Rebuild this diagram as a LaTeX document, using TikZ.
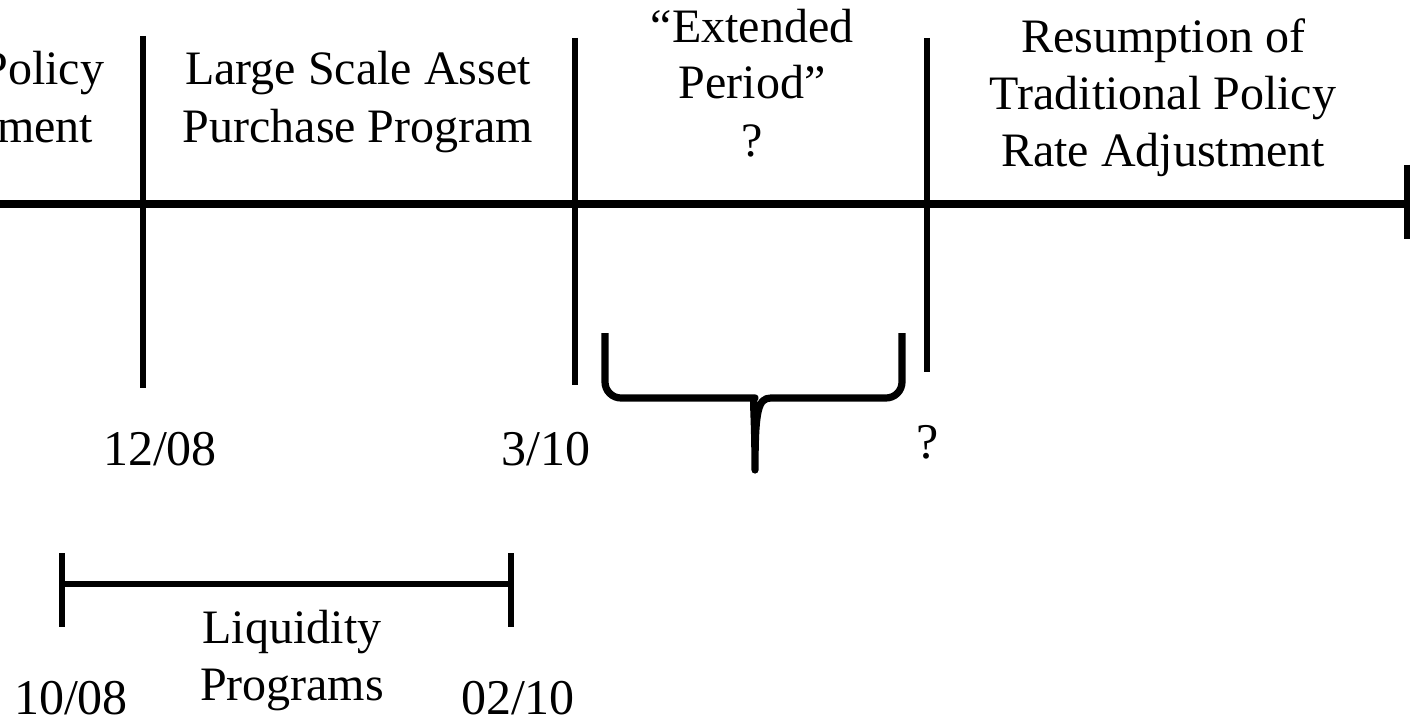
\documentclass[tikz,border=0pt]{standalone}
\usepackage{fontspec}
\setmainfont{Liberation Serif}
\usetikzlibrary{positioning}
\tikzstyle{period}=[align=center,anchor=base,inner sep=0pt,font=\fontsize{24}{28.5}\selectfont]
\tikzstyle{date}=[anchor=base,inner sep=0pt,font=\fontsize{25}{30}\selectfont]
\tikzstyle{divider}=[line width=2.7pt]
\newcommand{\newDivider}[4]{\coordinate (#1a) at (#2,#3);\coordinate (#1b) at (#2,#4);\draw[divider] (#1a) -- (#1b);}
\begin{document}
\begin{tikzpicture}[x=0.5pt,y=-0.5pt,
    line cap=butt
    ]
    \useasboundingbox (0,0) rectangle (1414,722);
    \clip (0,0) rectangle (1414,722);
    % time axis
    \coordinate (t0) at (-20,204);
    \coordinate (t1) at (1409,204);
    \draw[line width=4pt] (t0) -- (t1);
    \newDivider{tend}{1407}{165}{239}
    \newDivider{d1}{143}{36}{388}
    \newDivider{d2}{575}{38}{385}
    \newDivider{d3}{927}{38}{372}
    % periods (base = last line)
    \node[period] (rate) at (-69,142) {Traditional Policy\\Rate Adjustment};
    \node[period] (lsap) at (358,142) {Large Scale Asset\\Purchase Program};
    \node[period] (ext) at (752,156) {“Extended\\Period”\\?};
    \node[period] (resume) at (1163,167) {Resumption of\\Traditional Policy\\Rate Adjustment};
    % dates
    \node[date] (dec08) at (160,465) {12/08};
    \node[date] (mar10) at (546,465) {3/10};
    \node[date] (dq) at (928,458) {?};
    % brace
    \coordinate (bl) at (605,333);
    \coordinate (br) at (902,333);
    \coordinate (tip) at (755,470);
    \draw[line width=3.6pt,line join=round,rounded corners=8pt] (bl) |- (739,398)
      [sharp corners] .. controls (752,398) and (755,410) .. (tip)
      .. controls (755,410) and (758,398) .. (771,398)
      [rounded corners=8pt] -| (br);
    % liquidity programs
    \newDivider{l0}{62}{553}{627}
    \newDivider{l1}{511}{553}{627}
    \coordinate (la) at (62,584);
    \coordinate (lb) at (511,584);
    \draw[divider] (la) -- (lb);
    \node[period] (liq) at (292,700) {Liquidity\\Programs};
    \node[date] (oct08) at (71,714) {10/08};
    \node[date] (feb10) at (518,714) {02/10};
  \end{tikzpicture}
\end{document}
